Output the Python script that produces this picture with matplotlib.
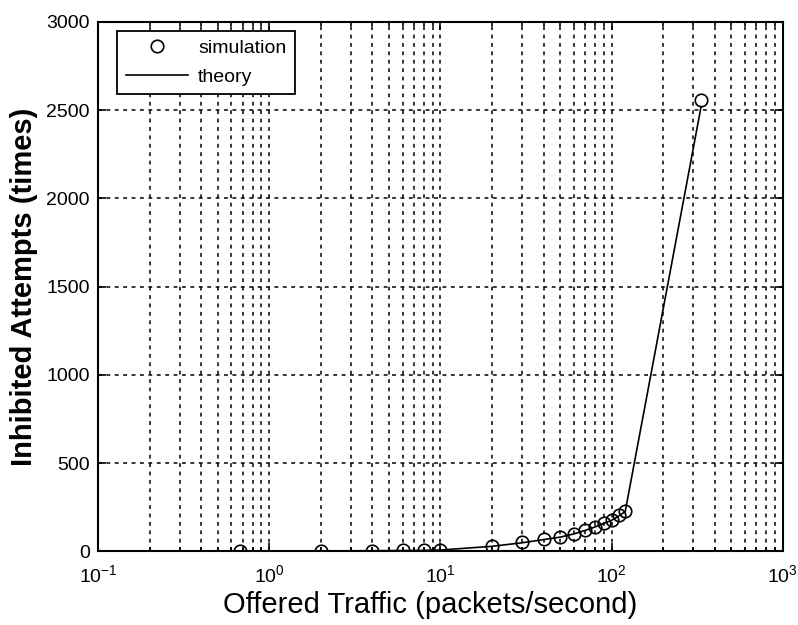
import matplotlib
matplotlib.use("Agg")
import matplotlib.pyplot as plt
from matplotlib.ticker import LogLocator, FixedLocator, NullFormatter

plt.rcParams["font.family"] = ["Liberation Sans", "DejaVu Sans"]
plt.rcParams["mathtext.fontset"] = "custom"
plt.rcParams["mathtext.rm"] = "Liberation Sans"
plt.rcParams["mathtext.it"] = "Liberation Sans:italic"

# Offered traffic (packets/second) and inhibited attempts
sim_x = [0.67, 2, 4, 6, 8, 10, 20, 30, 40, 50, 60, 70, 80, 90, 100, 110, 120, 333]
sim_y = [2, 3, 4, 5, 6, 8, 30, 50, 70, 80, 100, 120, 140, 160, 175, 205, 230, 2560]

theory_x = [0.1, 0.67, 2, 4, 6, 8, 10, 20, 30, 40, 50, 60, 70, 80, 90, 100, 110, 120, 333]
theory_y = [0, 1, 2, 3, 4, 5, 7, 28, 48, 66, 80, 98, 118, 138, 158, 175, 200, 225, 2520]

y_ticks = [0, 500, 1000, 1500, 2000, 2500, 3000]

fig = plt.figure(figsize=(7.98, 6.25), dpi=100)
ax = fig.add_axes([0.123, 0.118, 0.858, 0.847])

ax.plot(sim_x, sim_y, linestyle="none", marker="o", markersize=9,
        markerfacecolor="none", markeredgecolor="black", markeredgewidth=1.2,
        label="simulation", zorder=3)
ax.plot(theory_x, theory_y, color="black", linewidth=1.2, label="theory", zorder=3)

ax.set_xscale("log")
ax.set_xlim(0.1, 1000)
ax.set_ylim(0, 3000)
ax.yaxis.set_major_locator(FixedLocator(y_ticks))
ax.xaxis.set_major_locator(LogLocator(base=10))
ax.xaxis.set_minor_locator(LogLocator(base=10, subs=range(2, 10)))
ax.xaxis.set_minor_formatter(NullFormatter())

grid_style = dict(color="black", linestyle=(0, (2.5, 3)), linewidth=1.1)
ax.grid(True, which="major", axis="both", **grid_style)
ax.grid(True, which="minor", axis="x", **grid_style)
ax.set_axisbelow(True)

ax.tick_params(which="both", direction="in", top=True, right=True, width=1.2)
ax.tick_params(which="major", length=6, labelsize=14)
ax.tick_params(axis="x", which="major", pad=9)
ax.tick_params(axis="y", which="major", pad=6)
ax.tick_params(which="minor", length=3)
for s in ax.spines.values():
    s.set_linewidth(1.5)

ax.set_xlabel("Offered Traffic (packets/second)", fontsize=21, labelpad=2)
ax.xaxis.set_label_coords(0.485, -0.075)
ax.set_ylabel("Inhibited Attempts (times)", fontsize=21, fontweight="bold", labelpad=6)

leg = ax.legend(loc="upper left", bbox_to_anchor=(0.028, 0.983), fontsize=14,
                frameon=True, fancybox=False, edgecolor="black", framealpha=1,
                borderaxespad=0, handlelength=3.2, handletextpad=0.5,
                borderpad=0.45, labelspacing=0.55)
leg.get_frame().set_linewidth(1.3)

fig.savefig("out.png", dpi=100)
